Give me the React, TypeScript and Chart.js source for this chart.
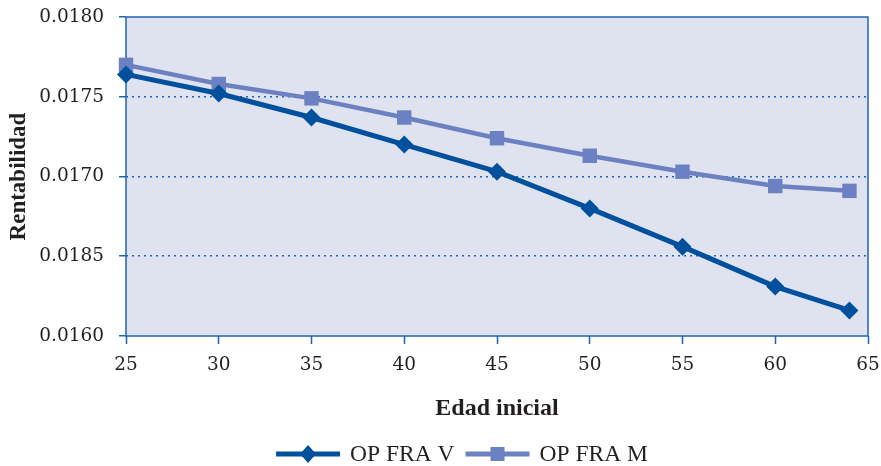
import React, { useEffect, useRef } from "react";
import { Chart, registerables } from "chart.js";

Chart.register(...registerables);

const ages = [25, 30, 35, 40, 45, 50, 55, 60, 64];
const opFraV = [0.01764, 0.01752, 0.01737, 0.0172, 0.01703, 0.0168, 0.01656, 0.01631, 0.01616];
const opFraM = [0.0177, 0.01758, 0.01749, 0.01737, 0.01724, 0.01713, 0.01703, 0.01694, 0.01691];
const seriesNames = ["OP FRA V", "OP FRA M"];
const yTickLabels = ["0.0160", "0.0185", "0.0170", "0.0175", "0.0180"];
const xTitle = "Edad inicial";
const yTitle = "Rentabilidad";

const AXIS_BLUE = "#1f63b5";
const BG = "#dfe3f0";
const COLOR_V = "#00509e";
const COLOR_M = "#6c81c1";
const TICK_FONT = "'DejaVu Serif', serif";
const TEXT_FONT = "'Liberation Serif', serif";

function drawMarker(ctx: CanvasRenderingContext2D, style: string, x: number, y: number, color: string) {
  ctx.save();
  ctx.fillStyle = color;
  ctx.beginPath();
  if (style === "rectRot") {
    ctx.moveTo(x, y - 9);
    ctx.lineTo(x + 8, y);
    ctx.lineTo(x, y + 9);
    ctx.lineTo(x - 8, y);
    ctx.closePath();
  } else {
    ctx.rect(x - 7, y - 7, 14, 14);
  }
  ctx.fill();
  ctx.restore();
}

const plotPlugin = {
  id: "plotDecor",
  beforeDraw(chart: any) {
    const { ctx, chartArea } = chart;
    ctx.save();
    ctx.fillStyle = BG;
    ctx.fillRect(chartArea.left, chartArea.top, chartArea.right - chartArea.left, chartArea.bottom - chartArea.top);
    ctx.restore();
  },
  beforeDatasetsDraw(chart: any) {
    const { ctx, chartArea } = chart;
    ctx.save();
    ctx.strokeStyle = AXIS_BLUE;
    ctx.lineWidth = 1.5;
    ctx.strokeRect(chartArea.left, chartArea.top, chartArea.right - chartArea.left, chartArea.bottom - chartArea.top);
    ctx.restore();
  },
  afterDraw(chart: any) {
    const { ctx } = chart;
    const ds = chart.data.datasets;
    ctx.save();
    ctx.font = "23.5px " + TEXT_FONT;
    ctx.textBaseline = "middle";
    ctx.textAlign = "left";
    const lineLen = 64;
    const gapText = 10;
    const gapItem = 11;
    const widths = ds.map((d: any) => lineLen + gapText + ctx.measureText(d.label).width);
    const total = widths.reduce((a: number, b: number) => a + b, 0) + gapItem * (ds.length - 1);
    let x = 462 - total / 2;
    const y = 454;
    ds.forEach((d: any, i: number) => {
      ctx.strokeStyle = d.borderColor;
      ctx.lineWidth = 5;
      ctx.beginPath();
      ctx.moveTo(x, y);
      ctx.lineTo(x + lineLen, y);
      ctx.stroke();
      drawMarker(ctx, d.pointStyle, x + lineLen / 2, y, d.borderColor);
      ctx.fillStyle = "#231f20";
      ctx.fillText(d.label, x + lineLen + gapText, y + 1);
      x += widths[i] + gapItem;
    });
    ctx.restore();
  },
};

export default function App() {
  const ref = useRef<HTMLCanvasElement | null>(null);
  useEffect(() => {
    if (!ref.current) return;
    const chart = new Chart(ref.current, {
      type: "line",
      data: {
        labels: ages,
        datasets: [
          {
            label: seriesNames[0],
            data: ages.map((a, i) => ({ x: a, y: opFraV[i] })),
            borderColor: COLOR_V,
            backgroundColor: COLOR_V,
            borderWidth: 5,
            pointStyle: "rectRot",
            pointRadius: 9,
            pointBorderWidth: 0,
            tension: 0,
            clip: false,
          },
          {
            label: seriesNames[1],
            data: ages.map((a, i) => ({ x: a, y: opFraM[i] })),
            borderColor: COLOR_M,
            backgroundColor: COLOR_M,
            borderWidth: 4.5,
            pointStyle: "rect",
            pointRadius: 10.2,
            pointBorderWidth: 0,
            tension: 0,
            clip: false,
          },
        ],
      },
      options: {
        responsive: false,
        animation: false,
        layout: { padding: { left: 0, right: 13, top: 17, bottom: 40 } },
        plugins: {
          legend: { display: false },
          tooltip: { enabled: false },
        },
        scales: {
          x: {
            type: "linear",
            min: 25,
            max: 65,
            ticks: {
              stepSize: 5,
              color: "#231f20",
              font: { family: TICK_FONT, size: 18.5 },
              padding: 10,
            },
            grid: {
              drawOnChartArea: false,
              drawTicks: true,
              tickLength: 8,
              tickColor: AXIS_BLUE,
              tickWidth: 1.5,
            },
            border: { display: false },
            title: {
              display: true,
              text: xTitle,
              color: "#231f20",
              font: { family: TEXT_FONT, size: 24, weight: "bold" },
              padding: { top: 20, bottom: 3 },
            },
            afterFit: (scale: any) => {
              scale.height = 90;
              scale.paddingLeft = 0;
              scale.paddingRight = 0;
            },
          },
          y: {
            type: "linear",
            min: 0.016,
            max: 0.018,
            ticks: {
              stepSize: 0.0005,
              color: "#231f20",
              font: { family: TICK_FONT, size: 18.5 },
              padding: 15,
              callback: (v: any) => yTickLabels[Math.round((Number(v) - 0.016) / 0.0005)],
            },
            grid: {
              drawOnChartArea: true,
              color: (c: any) => {
                const v = c.tick ? c.tick.value : 0;
                return Math.abs(v - 0.016) < 1e-7 || Math.abs(v - 0.018) < 1e-7 ? "rgba(0,0,0,0)" : AXIS_BLUE;
              },
              lineWidth: 1.5,
              borderDash: [2, 4],
              tickLength: 7,
              tickColor: AXIS_BLUE,
              tickBorderDash: [],
              tickWidth: 1.5,
            } as any,
            border: { display: false, dash: [2, 4] },
            title: {
              display: true,
              text: yTitle,
              color: "#231f20",
              font: { family: TEXT_FONT, size: 23, weight: "bold" },
              padding: { top: 5, bottom: 0 },
            },
            afterFit: (scale: any) => {
              scale.width = 126;
              scale.paddingTop = 0;
              scale.paddingBottom = 0;
            },
          },
        },
      } as any,
      plugins: [plotPlugin],
    });
    return () => chart.destroy();
  }, []);
  return (
    <div style={{ position: "absolute", left: 0, top: 0, width: 881, height: 466, background: "#fff" }}>
      <canvas ref={ref} width={881} height={466} />
    </div>
  );
}
